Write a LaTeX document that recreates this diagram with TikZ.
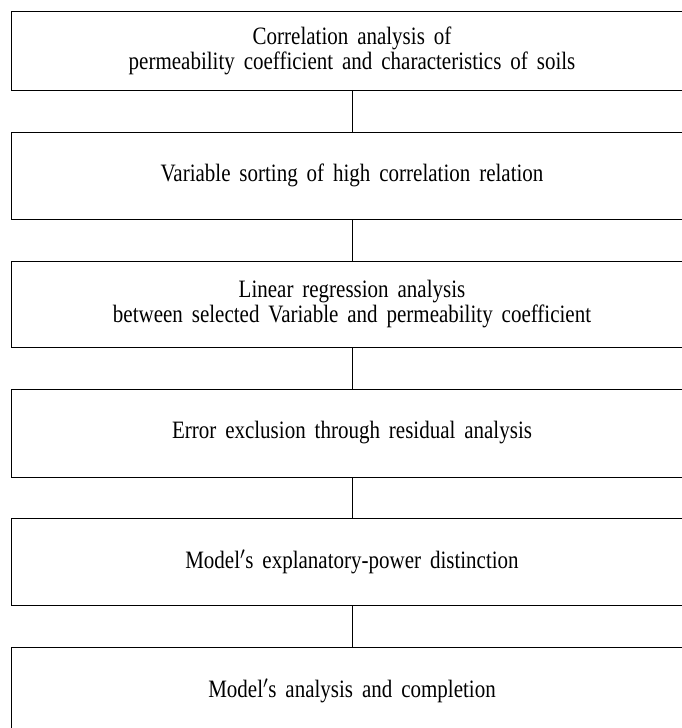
\documentclass[tikz,border=0pt]{standalone}
\usepackage{fontspec}
\setmainfont{Liberation Serif}[FakeStretch=0.84,WordSpace={1.7}]
\begin{document}
\begin{tikzpicture}[x=1pt,y=-1pt,
  stepbox/.style={draw=black,line width=1pt,rectangle,minimum width=682pt,inner sep=0pt,align=center,
    font=\fontsize{25}{25}\selectfont},
  link/.style={draw=black,line width=1pt}]
\useasboundingbox (0,0) rectangle (681,728);
\node[stepbox,minimum height=79pt] (b1) at (352,50.5) {Correlation analysis of\\permeability coefficient and characteristics of soils};
\node[stepbox,minimum height=87pt] (b2) at (352,175.5) {Variable sorting of high correlation relation};
\node[stepbox,minimum height=86pt] (b3) at (352,304) {Linear regression analysis\\between selected Variable and permeability coefficient};
\node[stepbox,minimum height=88pt] (b4) at (352,433) {Error exclusion through residual analysis};
\node[stepbox,minimum height=87pt] (b5) at (352,561.5) {Model$'$s explanatory-power distinction};
\node[stepbox,minimum height=87pt] (b6) at (352,690.5) {Model$'$s analysis and completion};
\draw[link] (b1.south) -- (b2.north);
\draw[link] (b2.south) -- (b3.north);
\draw[link] (b3.south) -- (b4.north);
\draw[link] (b4.south) -- (b5.north);
\draw[link] (b5.south) -- (b6.north);
\end{tikzpicture}
\end{document}
